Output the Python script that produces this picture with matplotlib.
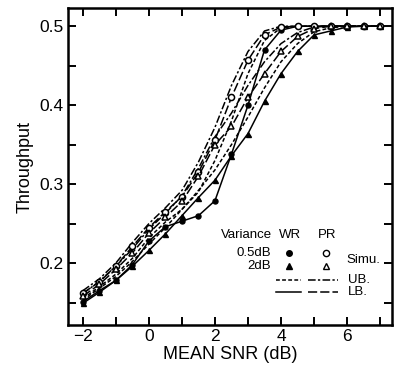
import numpy as np
import matplotlib
matplotlib.use("Agg")
import matplotlib.pyplot as plt
from matplotlib.ticker import MultipleLocator

plt.rcParams['font.family'] = ['Liberation Sans', 'DejaVu Sans']

# mean SNR grid (dB)
snr = [-2, -1.5, -1, -0.5, 0, 0.5, 1, 1.5, 2, 2.5, 3, 3.5, 4, 4.5, 5, 5.5, 6, 6.5, 7]

# simulation / lower bound curves
wr_05 = [0.151, 0.165, 0.178, 0.198, 0.228, 0.246, 0.253, 0.260, 0.279, 0.338, 0.400,
         0.470, 0.495, 0.500, 0.500, 0.500, 0.500, 0.500, 0.500]
wr_2 = [0.149, 0.163, 0.178, 0.196, 0.216, 0.237, 0.260, 0.283, 0.305, 0.336, 0.364,
        0.405, 0.440, 0.468, 0.489, 0.494, 0.499, 0.500, 0.500]
pr_05 = [0.162, 0.176, 0.196, 0.221, 0.245, 0.265, 0.284, 0.315, 0.356, 0.410, 0.457,
         0.489, 0.499, 0.500, 0.500, 0.500, 0.500, 0.500, 0.500]
pr_2 = [0.158, 0.173, 0.192, 0.213, 0.238, 0.258, 0.278, 0.310, 0.350, 0.373, 0.410,
        0.440, 0.468, 0.487, 0.497, 0.500, 0.500, 0.500, 0.500]

# upper bound curves
wr_05_ub = [0.155, 0.170, 0.186, 0.206, 0.232, 0.252, 0.268, 0.290, 0.330, 0.380, 0.440,
            0.482, 0.498, 0.500, 0.500, 0.500, 0.500, 0.500, 0.500]
wr_2_ub = [0.153, 0.168, 0.183, 0.202, 0.224, 0.245, 0.268, 0.292, 0.318, 0.350, 0.385,
           0.422, 0.455, 0.478, 0.493, 0.498, 0.500, 0.500, 0.500]
pr_05_ub = [0.165, 0.180, 0.200, 0.226, 0.250, 0.270, 0.292, 0.328, 0.372, 0.425, 0.468,
            0.494, 0.500, 0.500, 0.500, 0.500, 0.500, 0.500, 0.500]
pr_2_ub = [0.161, 0.177, 0.196, 0.218, 0.243, 0.263, 0.285, 0.320, 0.360, 0.390, 0.425,
           0.455, 0.478, 0.492, 0.499, 0.500, 0.500, 0.500, 0.500]

fig = plt.figure(figsize=(3.94, 3.72), dpi=100)
ax = fig.add_axes([0.1726, 0.1263, 0.8223, 0.852])

lw = 1.1
ms = 3.6
dot = (0, (2.5, 1.5))
dashdot = (0, (5, 1.5, 1.5, 1.5))
longdash = (0, (6, 2))
# upper bounds
ax.plot(snr, wr_05_ub, color='black', lw=lw, linestyle=dot)
ax.plot(snr, wr_2_ub, color='black', lw=lw, linestyle=dot)
ax.plot(snr, pr_05_ub, color='black', lw=lw, linestyle=dashdot)
ax.plot(snr, pr_2_ub, color='black', lw=lw, linestyle=dashdot)
# lower bounds with simulation markers
ax.plot(snr, wr_05, color='black', lw=lw, linestyle='-', marker='o', ms=ms,
        mfc='black', mec='black')
ax.plot(snr, wr_2, color='black', lw=lw, linestyle='-', marker='^', ms=ms,
        mfc='black', mec='black')
ax.plot(snr, pr_05, color='black', lw=lw, linestyle=longdash, marker='o', ms=ms + 0.8,
        mfc='white', mec='black', mew=1.1)
ax.plot(snr, pr_2, color='black', lw=lw, linestyle=longdash, marker='^', ms=ms + 0.8,
        mfc='white', mec='black', mew=1.1)

ax.set_xlim(-2.45, 7.36)
ax.set_ylim(0.1215, 0.523)
ax.xaxis.set_minor_locator(MultipleLocator(1))
ax.yaxis.set_minor_locator(MultipleLocator(0.05))
ax.tick_params(which='both', direction='in', top=True, right=True,
               length=6, width=1.4, labelsize=12.5, pad=3)
for s in ax.spines.values():
    s.set_linewidth(1.8)
ax.set_xticks([-2, 0, 2, 4, 6])
ax.set_xticklabels(['\u22122', '0', '2', '4', '6'])
ax.set_yticks([0.2, 0.3, 0.4, 0.5])
ax.set_yticklabels(['0.2', '0.3', '0.4', '0.5'])
ax.set_xlabel('MEAN SNR (dB)', fontsize=13, labelpad=1)
ax.set_ylabel('Throughput', fontsize=13, labelpad=4)

# legend drawn by hand (axes fraction)
def fx(px):
    return (px - 68) / 324.0

def fy(py):
    return (325 - py) / 317.0

t = ax.transAxes
fs = 9.5
ax.text(fx(221), fy(235), 'Variance', transform=t, fontsize=fs, va='center', ha='left')
ax.text(fx(290), fy(235), 'WR', transform=t, fontsize=fs, va='center', ha='center')
ax.text(fx(327), fy(235), 'PR', transform=t, fontsize=fs, va='center', ha='center')
ax.text(fx(271), fy(253), '0.5dB', transform=t, fontsize=fs, va='center', ha='right')
ax.text(fx(271), fy(266), '2dB', transform=t, fontsize=fs, va='center', ha='right')
ax.plot([fx(289)], [fy(253)], 'o', color='black', ms=4, transform=t)
ax.plot([fx(326)], [fy(253)], 'o', mfc='white', mec='black', ms=4.5, transform=t)
ax.plot([fx(289)], [fy(266)], '^', color='black', ms=4, transform=t)
ax.plot([fx(326)], [fy(266)], '^', mfc='white', mec='black', ms=4.5, transform=t)
ax.text(fx(346), fy(260), 'Simu.', transform=t, fontsize=fs, va='center', ha='left')
ax.plot([fx(276), fx(301)], [fy(280), fy(280)], color='black', lw=lw,
        linestyle=dot, transform=t)
ax.plot([fx(308), fx(338)], [fy(280), fy(280)], color='black', lw=lw,
        linestyle=dashdot, transform=t)
ax.text(fx(348), fy(280), 'UB.', transform=t, fontsize=fs, va='center', ha='left')
ax.plot([fx(276), fx(301)], [fy(292), fy(292)], color='black', lw=lw,
        linestyle='-', transform=t)
ax.plot([fx(308), fx(338)], [fy(292), fy(292)], color='black', lw=lw,
        linestyle=longdash, transform=t)
ax.text(fx(348), fy(292), 'LB.', transform=t, fontsize=fs, va='center', ha='left')

fig.savefig('out.png', dpi=100)
